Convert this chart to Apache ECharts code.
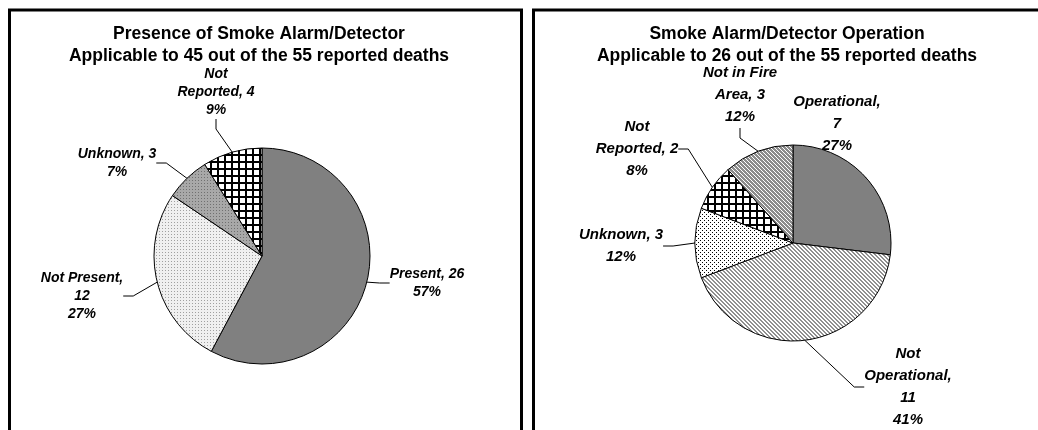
<!DOCTYPE html>
<html>
<head>
<meta charset="utf-8">
<script src="https://cdn.jsdelivr.net/npm/echarts@6/dist/echarts.min.js"></script>
<style>
  html, body { margin: 0; padding: 0; background: #fff; }
  #chart { width: 1038px; height: 430px; }
</style>
</head>
<body>
<div id="chart"></div>
<script>
// left pie: presence of smoke alarm
const leftNames = ['Present', 'Not Present', 'Unknown', 'Not\nReported']
const leftCounts = [26, 12, 3, 4]
const leftPercents = [57, 27, 7, 9]
const leftCountBreak = [false, true, false, false]

// right pie: smoke alarm operation
const rightNames = ['Operational', 'Not\nOperational', 'Unknown', 'Not\nReported', 'Not in Fire\nArea']
const rightCounts = [7, 11, 3, 2, 3]
const rightPercents = [27, 41, 12, 8, 12]
const rightCountBreak = [true, true, false, false, false]

const leftTitle = 'Presence of Smoke Alarm/Detector\nApplicable to 45 out of the 55 reported deaths'
const rightTitle = 'Smoke Alarm/Detector Operation\nApplicable to 26 out of the 55 reported deaths'

// label centres (px) — layout only
const leftLabelPos = [[427, 283], [82, 296], [117, 163], [216, 92]]
const rightLabelPos = [[837, 124], [908, 387], [621, 246], [637, 149], [740, 95]]

// small tiled fills, like the excel hatch patterns
function pattern(size, bg, fg, hit) {
  const c = document.createElement('canvas')
  c.width = size
  c.height = size
  const ctx = c.getContext('2d')
  ctx.fillStyle = bg
  ctx.fillRect(0, 0, size, size)
  ctx.fillStyle = fg
  for (let y = 0; y < size; y++) {
    for (let x = 0; x < size; x++) {
      if (hit(x, y)) ctx.fillRect(x, y, 1, 1)
    }
  }
  return { image: c, repeat: 'repeat' }
}

const solidGrey = '#808080'
const grid = pattern(7, '#ffffff', '#000000', (x, y) => x < 2 || y < 2)
const lightDots = pattern(3, '#f0f0f0', '#a0a0a0', (x, y) => x === 0 && y === 0)
const greyDots = pattern(3, '#a8a8a8', '#707070', (x, y) => x === 0 && y === 0)
const blackDots = pattern(4, '#ffffff', '#000000', (x, y) => (x === 0 && y === 0) || (x === 2 && y === 2))
const lightStripes = pattern(4, '#ffffff', '#909090', (x, y) => ((x - y + 8) % 4) < 2)
const darkStripes = pattern(4, '#ffffff', '#8c8c8c', (x, y) => ((x - y + 8) % 4) < 3)

const leftFills = [solidGrey, lightDots, greyDots, grid]
const rightFills = [solidGrey, lightStripes, blackDots, grid, darkStripes]

function buildData(names, counts, fills) {
  return names.map((n, i) => ({
    name: n,
    value: counts[i],
    itemStyle: { color: fills[i] }
  }))
}

function labelText(percents, breaks) {
  return p => p.name + (breaks[p.dataIndex] ? ',\n' : ', ') + p.value + '\n' + percents[p.dataIndex] + '%'
}

function labelAt(pos) {
  return params => ({
    x: pos[params.dataIndex][0],
    y: pos[params.dataIndex][1],
    align: 'center',
    verticalAlign: 'middle'
  })
}

const font = 'Liberation Sans, Arial, sans-serif'

function pieSeries(center, radius, data, percents, breaks, pos, size, lh) {
  return {
    type: 'pie',
    center: center,
    radius: radius,
    startAngle: 90,
    clockwise: true,
    avoidLabelOverlap: false,
    animation: false,
    data: data,
    itemStyle: { borderColor: '#000', borderWidth: 1 },
    emphasis: { disabled: true },
    label: {
      show: true,
      position: 'outside',
      formatter: labelText(percents, breaks),
      color: '#000',
      fontFamily: font,
      fontSize: size,
      fontWeight: 'bold',
      fontStyle: 'italic',
      lineHeight: lh
    },
    labelLine: {
      show: true,
      length: 12,
      length2: 10,
      lineStyle: { color: '#000', width: 1 }
    },
    labelLayout: labelAt(pos)
  }
}

const titleStyle = { fontFamily: font, fontSize: 17.5, fontWeight: 'bold', color: '#000', lineHeight: 22 }

const chart = echarts.init(document.getElementById('chart'), null, { renderer: 'canvas' })
chart.setOption({
  backgroundColor: '#fff',
  animation: false,
  title: [
    { text: leftTitle, left: 259, top: 23, textAlign: 'center', padding: 0, textStyle: titleStyle },
    { text: rightTitle, left: 787, top: 23, textAlign: 'center', padding: 0, textStyle: titleStyle }
  ],
  graphic: [
    { type: 'rect', shape: { x: 9.5, y: 10, width: 512, height: 440 }, style: { fill: 'none', stroke: '#000', lineWidth: 3 } },
    { type: 'rect', shape: { x: 533.5, y: 10, width: 512, height: 440 }, style: { fill: 'none', stroke: '#000', lineWidth: 3 } }
  ],
  series: [
    pieSeries([262, 256], 108, buildData(leftNames, leftCounts, leftFills), leftPercents, leftCountBreak, leftLabelPos, 14, 18),
    pieSeries([793, 243], 98, buildData(rightNames, rightCounts, rightFills), rightPercents, rightCountBreak, rightLabelPos, 15, 22)
  ]
})
</script>
</body>
</html>
